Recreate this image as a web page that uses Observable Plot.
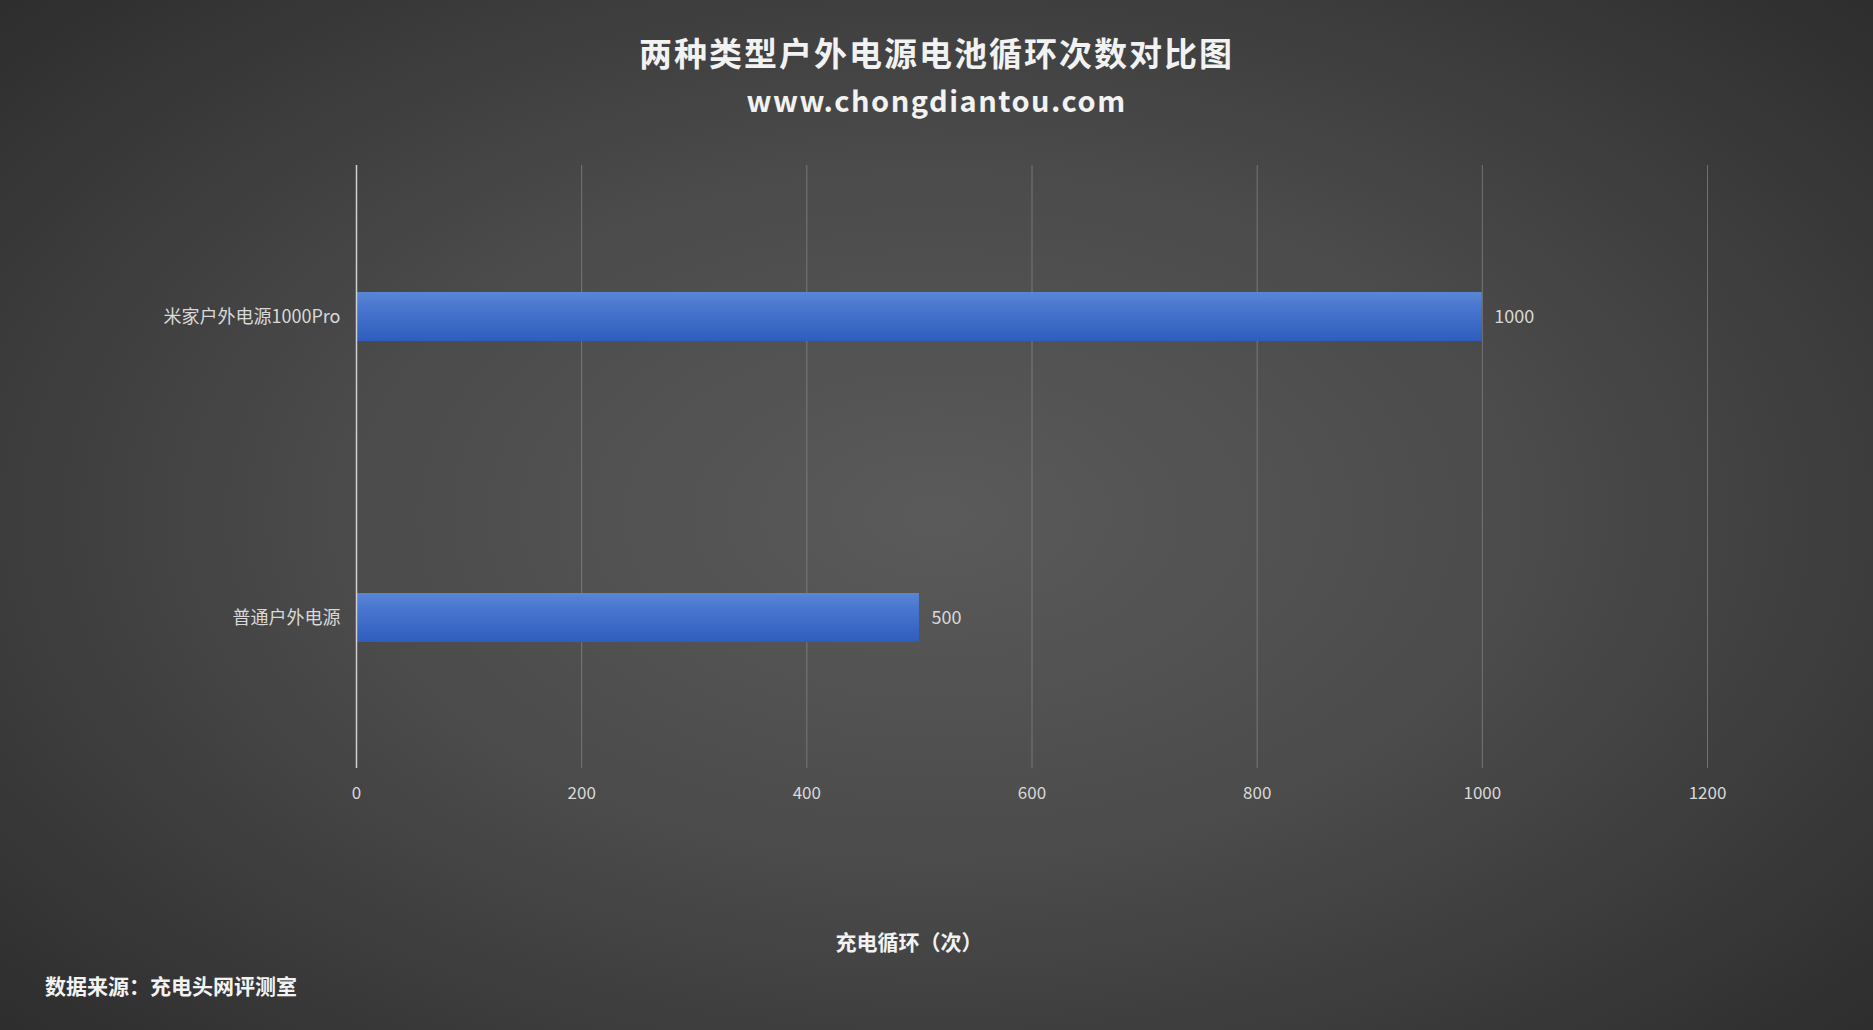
<!DOCTYPE html>
<html>
<head>
<meta charset="utf-8">
<script src="https://cdn.jsdelivr.net/npm/d3@7"></script>
<script src="https://cdn.jsdelivr.net/npm/@observablehq/plot@0.6"></script>
<style>
  html, body { margin: 0; padding: 0; }
  body {
    width: 1873px; height: 1030px; overflow: hidden; position: relative;
    background: radial-gradient(ellipse 70% 75% at 50% 50%, #5a5a5a 0%, #4b4b4b 45%, #2c2c2c 100%);
    font-family: "Noto Sans CJK SC", "Noto Sans", sans-serif;
  }
  .title { position: absolute; left: 0; width: 1873px; text-align: center; color: #f2f2f2; font-weight: bold; }
  #t1 { top: 28px; font-size: 33px; letter-spacing: 2px; }
  #t2 { top: 78px; font-size: 29px; letter-spacing: 1.5px; }
  #chart { position: absolute; left: 0; top: 0; }
  #xlabel { position: absolute; top: 926px; left: 809px; width: 200px; text-align: center; color: #f2f2f2; font-weight: bold; font-size: 21px; }
  #source { position: absolute; top: 970px; left: 45px; color: #f2f2f2; font-weight: bold; font-size: 21px; }
</style>
</head>
<body>
<div class="title" id="t1">两种类型户外电源电池循环次数对比图</div>
<div class="title" id="t2">www.chongdiantou.com</div>
<div id="chart"></div>
<div id="xlabel">充电循环（次）</div>
<div id="source">数据来源：充电头网评测室</div>
<script>
const categories = ["米家户外电源1000Pro", "普通户外电源"];
const cycles = [1000, 500];
const xTicks = [0, 200, 400, 600, 800, 1000, 1200];

const data = categories.map((c, i) => ({ name: c, value: cycles[i] }));

const plot = Plot.plot({
  width: 1873,
  height: 830,
  marginTop: 165,
  marginBottom: 62,
  marginLeft: 356,
  marginRight: 166,
  style: { background: "transparent", color: "#d9d9d9", fontFamily: "'Noto Sans CJK SC', 'Noto Sans', sans-serif", fontSize: "16px", overflow: "visible" },
  x: { domain: [0, 1200], ticks: xTicks, label: null },
  y: { domain: categories, paddingInner: 0.8375, paddingOuter: 0.41875, label: null },
  marks: [
    Plot.ruleX(xTicks.filter(d => d !== 0), { stroke: "#9a9a9a", strokeOpacity: 0.55, strokeWidth: 1 }),
    Plot.barX(data, { x: "value", y: "name", fill: "url(#barGrad)", style: "filter: drop-shadow(0px 3px 3px rgba(0,0,0,0.55))" }),
    Plot.ruleX([0], { stroke: "#d0d0d0", strokeWidth: 1.5 }),
    Plot.text(data, { x: "value", y: "name", text: d => String(d.value), dx: 12, textAnchor: "start", fill: "#d9d9d9", fontSize: 18 }),
    Plot.axisX({ ticks: xTicks, tickFormat: d => String(d), tickSize: 0, tickPadding: 18, fontSize: 17, fill: "#d9d9d9", label: null }),
    Plot.axisY({ tickSize: 0, tickPadding: 16, fontSize: 18, fill: "#d9d9d9", label: null })
  ]
});

const svg = d3.select(plot);
const defs = svg.insert("defs", ":first-child");
const g = defs.append("linearGradient").attr("id", "barGrad").attr("x1", 0).attr("y1", 0).attr("x2", 0).attr("y2", 1);
g.append("stop").attr("offset", "0%").attr("stop-color", "#5a86d6");
g.append("stop").attr("offset", "30%").attr("stop-color", "#4a77cf");
g.append("stop").attr("offset", "100%").attr("stop-color", "#2e5dbd");

document.getElementById("chart").appendChild(plot);
</script>
</body>
</html>
